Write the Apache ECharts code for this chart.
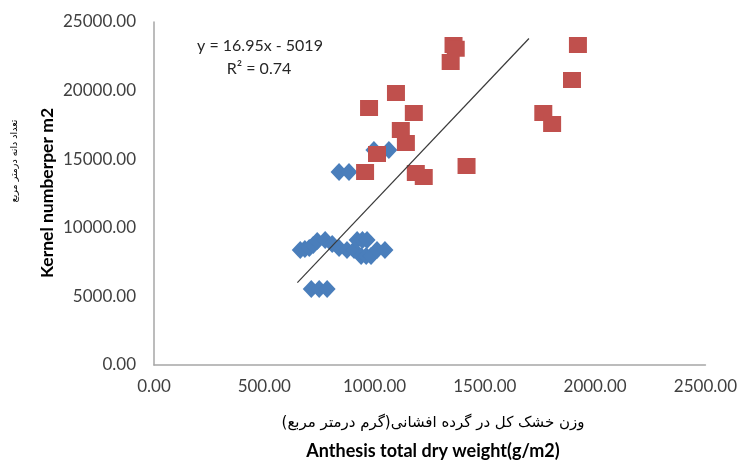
<!DOCTYPE html>
<html>
<head>
<meta charset="utf-8">
<script src="https://cdn.jsdelivr.net/npm/echarts@6/dist/echarts.min.js"></script>
<style>html,body{margin:0;padding:0;background:#fff;}#c{width:740px;height:461px;}</style>
</head>
<body>
<div id="c"></div>
<script>
// Blue series (diamonds): [dry weight, kernel number]
var blueX = [663, 684, 704, 722, 740, 776, 808, 839, 875, 907, 921, 945, 966, 939, 962, 984, 1011, 1047, 713, 749, 785, 839, 884, 997, 1065];
var blueY = [8382, 8450, 8528, 8750, 9038, 9111, 8819, 8528, 8382, 8382, 9111, 9111, 9111, 7945, 7945, 7945, 8382, 8382, 5539, 5539, 5539, 14067, 14067, 15670, 15670];
// Red series (squares)
var redX = [1358, 1368, 1345, 1097, 975, 1178, 1119, 1142, 1011, 957, 1187, 1223, 1417, 1922, 1895, 1765, 1805];
var redY = [23323, 23050, 22084, 19825, 18732, 18367, 17128, 16181, 15379, 14067, 13994, 13703, 14504, 23323, 20773, 18367, 17565];
// Linear trendline end points (y = 16.95x - 5019)
var trendX = [650, 1700];
var trendY = [5999, 23796];
var xTicks = [0, 500, 1000, 1500, 2000, 2500];
var yTicks = [0, 5000, 10000, 15000, 20000, 25000];
var equationText = 'y = 16.95x - 5019';
var r2Text = 'R² = 0.74';
var xTitleFa = 'وزن خشک کل در گرده افشانی(گرم درمتر مربع)';
var xTitleEn = 'Anthesis total dry weight(g/m2)';
var yTitleFa = 'تعداد دانه درمتر مربع';
var yTitleEn = 'Kernel numberper m2';

function zip(a, b) { return a.map(function (v, i) { return [v, b[i]]; }); }

var chart = echarts.init(document.getElementById('c'));
var labelStyle = { color: '#404040', fontFamily: 'Lato', fontSize: 17 };
chart.setOption({
  animation: false,
  backgroundColor: '#fff',
  grid: { left: 154, right: 32, top: 22, bottom: 96 },
  xAxis: {
    type: 'value', min: xTicks[0], max: xTicks[xTicks.length - 1], interval: 500,
    axisLine: { lineStyle: { color: '#a6a6a6', width: 1.5 } },
    axisTick: { show: false }, splitLine: { show: false },
    axisLabel: Object.assign({ margin: 13, formatter: function (v) { return v.toFixed(2); } }, labelStyle)
  },
  yAxis: {
    type: 'value', min: yTicks[0], max: yTicks[yTicks.length - 1], interval: 5000,
    axisLine: { show: true, lineStyle: { color: '#a6a6a6', width: 1.5 } },
    axisTick: { show: false }, splitLine: { show: false },
    axisLabel: Object.assign({ margin: 18, formatter: function (v) { return v.toFixed(2); } }, labelStyle)
  },
  series: [
    { type: 'scatter', data: zip(blueX, blueY), symbol: 'diamond', symbolSize: [17, 18],
      itemStyle: { color: '#4A7EBB', opacity: 1 } },
    { type: 'scatter', data: zip(redX, redY), symbol: 'rect', symbolSize: [18, 16],
      itemStyle: { color: '#C0504D', opacity: 1 } },
    { type: 'line', data: zip(trendX, trendY), showSymbol: false, symbol: 'none', z: 5,
      lineStyle: { color: '#3a3a3a', width: 1.2 } }
  ],
  graphic: [
    { type: 'text', x: 260, y: 46, style: { text: equationText, font: '16px Lato', fill: '#262626', textAlign: 'center', textVerticalAlign: 'middle' } },
    { type: 'text', x: 259, y: 69, style: { text: r2Text, font: '16px Lato', fill: '#262626', textAlign: 'center', textVerticalAlign: 'middle' } },
    { type: 'text', x: 433, y: 423, style: { text: xTitleFa, font: '15px "DejaVu Sans"', fill: '#000', textAlign: 'center', textVerticalAlign: 'middle' } },
    { type: 'text', x: 433, y: 451, style: { text: xTitleEn, font: 'bold 18px Lato', fill: '#000', textAlign: 'center', textVerticalAlign: 'middle' } },
    { type: 'text', x: 15, y: 161, rotation: Math.PI / 2, style: { text: yTitleFa, font: '9.5px "DejaVu Sans"', fill: '#000', textAlign: 'center', textVerticalAlign: 'middle' } },
    { type: 'text', x: 47, y: 193, rotation: Math.PI / 2, style: { text: yTitleEn, font: 'bold 17.5px Lato', fill: '#000', textAlign: 'center', textVerticalAlign: 'middle' } }
  ]
});
</script>
</body>
</html>
